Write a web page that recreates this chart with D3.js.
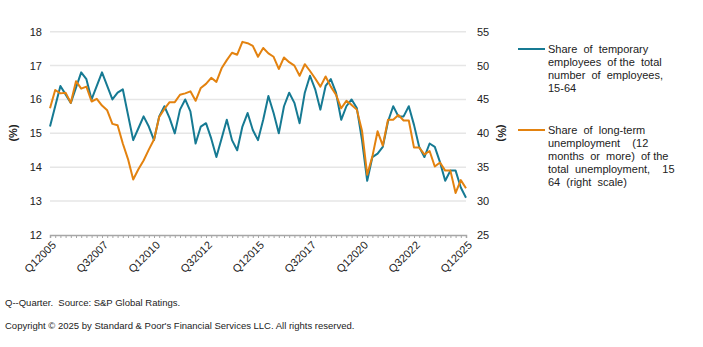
<!DOCTYPE html>
<html>
<head>
<meta charset="utf-8">
<script src="https://cdn.jsdelivr.net/npm/d3@7"></script>
<style>
  body { margin: 0; background: #fff; }
  svg { display: block; font-family: "Liberation Sans", Arial, sans-serif; }
</style>
</head>
<body>
<div id="chart"></div>
<script>
// quarters Q1 2005 .. Q1 2025
const quarters = [];
for (let y = 2005; y <= 2025; y++) {
  for (let q = 1; q <= 4; q++) {
    if (y === 2025 && q > 1) break;
    quarters.push('Q' + q + y);
  }
}
const tickLabels = ['Q12005', 'Q32007', 'Q12010', 'Q32012', 'Q12015', 'Q32017', 'Q12020', 'Q32022', 'Q12025'];

// share of temporary employees (left scale, %)
const temporaryShare = [
  15.2, 15.8, 16.4, 16.15, 15.9, 16.35, 16.8, 16.6, 16.0, 16.4,
  16.8, 16.4, 16.0, 16.2, 16.3, 15.55, 14.8, 15.15, 15.5, 15.2,
  14.8, 15.5, 15.8, 15.45, 15.0, 15.7, 16.0, 15.65, 14.7, 15.2,
  15.3, 14.85, 14.3, 14.85, 15.4, 14.8, 14.5, 15.2, 15.6, 15.1,
  14.8, 15.4, 16.1, 15.6, 15.0, 15.8, 16.2, 15.9, 15.3, 16.2,
  16.7, 16.3, 15.7, 16.4, 16.6, 16.2, 15.4, 15.8, 16.0, 15.75,
  14.8, 13.6, 14.3, 14.4, 14.6, 15.35, 15.8, 15.5, 15.5, 15.8,
  15.25, 14.6, 14.3, 14.7, 14.6, 14.15, 13.6, 13.9, 13.9, 13.4,
  13.1
];

// share of long-term unemployment (right scale, %)
const longTermShare = [
  43.7, 46.4, 45.9, 46.0, 44.5, 47.7, 46.6, 46.9, 44.7, 45.1,
  44.1, 43.4, 41.4, 41.2, 38.5, 36.2, 33.2, 34.7, 36.0, 37.6,
  39.1, 42.4, 43.6, 44.6, 44.6, 45.7, 45.9, 46.2, 44.8, 46.7,
  47.3, 48.2, 47.6, 49.6, 50.8, 51.9, 51.6, 53.5, 53.3, 52.9,
  51.3, 52.6, 51.8, 51.3, 49.5, 51.2, 50.5, 50.0, 48.5, 50.2,
  49.2, 48.1, 46.9, 48.4, 46.9, 45.7, 43.7, 44.8, 44.2, 43.5,
  40.4, 33.9, 36.6, 40.3, 38.2, 42.0, 42.0, 42.7, 41.9, 41.9,
  37.9, 37.9, 36.9, 37.4, 35.1, 35.7, 34.5, 34.5, 31.2, 33.1,
  31.9
];

const leftTicks = [12, 13, 14, 15, 16, 17, 18];
const rightTicks = [25, 30, 35, 40, 45, 50, 55];

const legendItems = [
  { color: '#167a93', lines: ['Share  of  temporary', 'employees  of the  total', 'number  of  employees,', '15-64'] },
  { color: '#e3820f', lines: ['Share  of  long-term', 'unemployment    (12', 'months  or  more)  of the', 'total  unemployment,    15', '64  (right  scale)'] }
];

const W = 703, H = 347;
const svg = d3.select('#chart').append('svg')
  .attr('width', W).attr('height', H);

const x = d3.scalePoint().domain(quarters).range([50, 466]);
const yL = d3.scaleLinear().domain([12, 18]).range([235, 31.7]);
const yR = d3.scaleLinear().domain([25, 55]).range([235, 31.7]);

// gridlines
svg.append('g').selectAll('line')
  .data(leftTicks.slice(1)).join('line')
  .attr('x1', 50).attr('x2', 466)
  .attr('y1', d => yL(d)).attr('y2', d => yL(d))
  .attr('stroke', '#e6e6e6').attr('stroke-width', 1.5);

// bottom axis with a tick every quarter
const xAxis = svg.append('g')
  .attr('transform', 'translate(0,235)')
  .call(d3.axisBottom(x).tickSize(3).tickFormat(''));
xAxis.select('.domain').attr('stroke', '#a6a6a6').attr('stroke-width', 1.5);
xAxis.selectAll('.tick line').attr('stroke', '#a6a6a6');

svg.append('g').selectAll('text')
  .data(tickLabels).join('text')
  .attr('transform', d => `translate(${x(d) + 4},${243}) rotate(-45)`)
  .attr('text-anchor', 'end')
  .attr('dy', '0.35em')
  .attr('font-size', 11)
  .attr('fill', '#222')
  .text(d => d);

// left axis labels
const yAxisL = svg.append('g')
  .attr('transform', 'translate(46,0)')
  .call(d3.axisLeft(yL).tickValues(leftTicks).tickSize(0).tickPadding(4).tickFormat(d3.format('d')));
yAxisL.select('.domain').remove();
yAxisL.selectAll('text').attr('font-size', 11).attr('fill', '#222')
  .attr('font-family', '"Liberation Sans", Arial, sans-serif');

// right axis labels
const yAxisR = svg.append('g')
  .attr('transform', 'translate(473,0)')
  .call(d3.axisRight(yR).tickValues(rightTicks).tickSize(0).tickPadding(4).tickFormat(d3.format('d')));
yAxisR.select('.domain').remove();
yAxisR.selectAll('text').attr('font-size', 11).attr('fill', '#222')
  .attr('font-family', '"Liberation Sans", Arial, sans-serif');

// axis titles
svg.append('text')
  .attr('transform', 'translate(13,133) rotate(-90)')
  .attr('text-anchor', 'middle').attr('dy', '0.35em')
  .attr('font-size', 11).attr('font-weight', 'bold').attr('fill', '#222')
  .text('(%)');
svg.append('text')
  .attr('transform', 'translate(502,133) rotate(90)')
  .attr('text-anchor', 'middle').attr('dy', '0.35em')
  .attr('font-size', 11).attr('font-weight', 'bold').attr('fill', '#222')
  .text('(%)');

// lines
const lineL = d3.line().x((d, i) => x(quarters[i])).y(d => yL(d));
const lineR = d3.line().x((d, i) => x(quarters[i])).y(d => yR(d));

svg.append('path').datum(temporaryShare)
  .attr('d', lineL)
  .attr('fill', 'none').attr('stroke', legendItems[0].color)
  .attr('stroke-width', 2).attr('stroke-linejoin', 'round');

svg.append('path').datum(longTermShare)
  .attr('d', lineR)
  .attr('fill', 'none').attr('stroke', legendItems[1].color)
  .attr('stroke-width', 2).attr('stroke-linejoin', 'round');

// legend
const legendY = [49, 130];
legendItems.forEach((item, k) => {
  const g = svg.append('g').attr('transform', `translate(518,${legendY[k]})`);
  g.append('line').attr('x1', 0).attr('x2', 27).attr('y1', 0).attr('y2', 0)
    .attr('stroke', item.color).attr('stroke-width', 2);
  g.append('text')
    .attr('font-size', 11).attr('fill', '#222')
    .selectAll('tspan').data(item.lines).join('tspan')
    .attr('x', 30).attr('y', (d, i) => i * 13)
    .attr('dy', '0.35em')
    .style('white-space', 'pre')
    .text(d => d);
});

// footnotes
svg.append('text')
  .attr('x', 5).attr('y', 306)
  .attr('font-size', 9.5).attr('fill', '#222')
  .style('white-space', 'pre')
  .text('Q--Quarter.  Source: S&P Global Ratings.');
svg.append('text')
  .attr('x', 5).attr('y', 329)
  .attr('font-size', 9.5).attr('fill', '#222')
  .text('Copyright © 2025 by Standard & Poor\'s Financial Services LLC. All rights reserved.');
</script>
</body>
</html>
